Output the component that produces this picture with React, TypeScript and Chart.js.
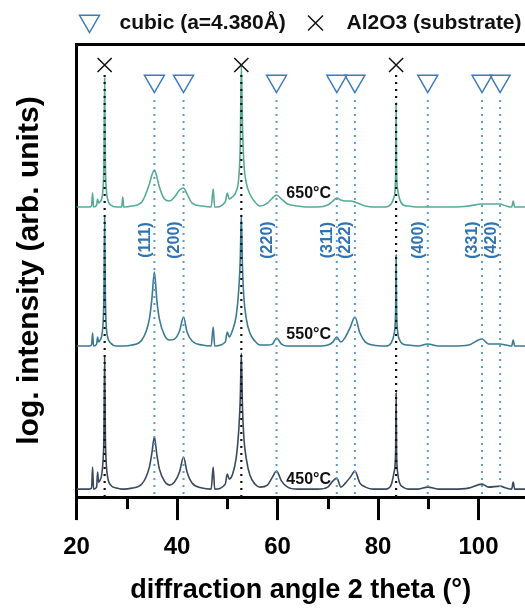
import React, { useEffect, useRef } from 'react';
import { Chart, registerables } from 'chart.js';

Chart.register(...registerables);

const FONT = '"Liberation Sans", Arial, Helvetica, sans-serif';

// 2 theta sample positions (degrees)
const angles = [
  20, 22.5, 23.0, 23.2, 23.4, 24.0, 24.2, 24.4, 24.8, 25.0,
  25.3, 25.45, 25.6, 25.75, 25.9, 26.2, 26.8, 28, 29.0, 29.2,
  29.4, 31, 33, 34.5, 35.0, 35.5, 36.0, 36.5, 37.5, 38.5,
  39.5, 40.5, 41.3, 42.0, 43.0, 45, 46.8, 47.2, 47.5, 49.6,
  50.0, 50.4, 51.0, 51.8, 52.3, 52.6, 52.8, 53.0, 53.3, 53.8,
  54.5, 55.5, 56.5, 58, 59, 59.8, 60.8, 62, 64, 66,
  68, 70, 71, 71.8, 72.6, 73.5, 74.5, 75.4, 76.4, 77.5,
  79, 81.5, 82.6, 83.2, 83.5, 83.6, 83.7, 83.9, 84.3, 85,
  86, 88, 89.9, 92, 95, 98, 100.7, 102, 104.3, 105.5,
  106.6, 106.9, 107.2, 109.5,
];

// log intensity, offset (arb. units)
const i650 = [
  290, 290, 291, 304, 290, 292, 298, 294, 296, 298,
  310, 332, 419, 332, 310, 298, 292, 290, 290, 300,
  290, 291, 295, 313, 322, 327, 320, 310, 298, 296,
  300, 307, 309, 303, 294, 291, 290, 308, 290, 295,
  304, 298, 300, 306, 320, 355, 432, 378, 335, 314,
  303, 295, 291, 294, 299, 302, 298, 293, 291, 290,
  290, 292, 296, 299, 297, 296, 296, 295, 293, 291,
  290, 290, 293, 300, 320, 394, 325, 308, 298, 292,
  291, 290, 290, 290, 290, 291, 293, 293, 293, 291,
  290, 296, 290, 290,
];

const i550 = [
  151, 151, 152, 164, 151, 153, 160, 155, 158, 161,
  175, 200, 280, 200, 173, 160, 154, 151, 151, 151,
  151, 152, 157, 178, 198, 225, 196, 178, 162, 157,
  158, 166, 180, 165, 156, 152, 151, 170, 151, 155,
  165, 160, 166, 182, 208, 240, 282, 235, 200, 178,
  164, 156, 152, 152, 153, 159, 153, 151, 151, 151,
  151, 152, 155, 160, 155, 160, 170, 180, 164, 155,
  152, 151, 154, 163, 185, 242, 186, 166, 157, 153,
  152, 151, 153, 151, 151, 152, 158, 153, 153, 152,
  151, 157, 151, 151,
];

const i450 = [
  8, 8, 9, 30, 8, 10, 25, 15, 18, 22,
  38, 60, 140, 60, 36, 20, 12, 9, 8, 8,
  8, 9, 13, 30, 44, 60, 42, 28, 16, 12,
  15, 25, 40, 25, 14, 9, 8, 30, 8, 13,
  23, 18, 22, 40, 68, 100, 144, 95, 60, 38,
  22, 13, 10, 12, 20, 26, 16, 10, 8, 8,
  8, 10, 16, 19, 10, 14, 20, 26, 14, 10,
  8, 8, 12, 25, 45, 104, 45, 25, 14, 10,
  8, 8, 10, 8, 8, 9, 13, 10, 11, 9,
  8, 15, 8, 8,
];

const cubicPeaks = [35.5, 41.3, 59.8, 71.8, 75.4, 89.9, 100.7, 104.3];
const cubicHkl = ['(111)', '(200)', '(220)', '(311)', '(222)', '(400)', '(331)', '(420)'];
const substratePeaks = [25.6, 52.8, 83.6];

const legendLabels = ['cubic (a=4.380Å)', 'Al2O3 (substrate)'];

const temperatures = ['650°C', '550°C', '450°C'];
const temperatureLabelY = [303, 162, 18];
const temperatureLabelX = 66.2;

const xMinorTicks = [30, 50, 70, 90];

const X_MIN = 20;
const X_MAX = 109.25;
const Y_MAX = 453;
const cubicMarkerY = 416;
const substrateMarkerY = 432;
const cubicLineTop = 397;
const substrateLineTop = 422;
const hklLabelY = 257;

const CUBIC_COLOR = '#3a7bbf';
const traceColors = ['#56ab92', '#3a7b93', '#3b4a5e'];

const toXY = (ys: number[]) => angles.map((x, i) => ({ x, y: ys[i] }));
const dotted = (peaks: number[], top: number) =>
  peaks.flatMap((x) => [
    { x, y: top },
    { x, y: 0 },
    { x, y: null as any },
  ]);

function drawTriangleDown(ctx: CanvasRenderingContext2D, cx: number, cy: number, r: number) {
  ctx.beginPath();
  ctx.moveTo(cx - r * 0.866, cy - r / 2);
  ctx.lineTo(cx + r * 0.866, cy - r / 2);
  ctx.lineTo(cx, cy + r);
  ctx.closePath();
  ctx.stroke();
}

function drawCross(ctx: CanvasRenderingContext2D, cx: number, cy: number, h: number) {
  ctx.beginPath();
  ctx.moveTo(cx - h, cy - h);
  ctx.lineTo(cx + h, cy + h);
  ctx.moveTo(cx + h, cy - h);
  ctx.lineTo(cx - h, cy + h);
  ctx.stroke();
}

const annotatePlugin = {
  id: 'annotate',
  afterDraw(chart: any) {
    const { ctx, chartArea, scales } = chart;
    const x = scales.x;
    const y = scales.y;
    ctx.save();
    // minor ticks
    ctx.strokeStyle = '#000';
    ctx.lineWidth = 3;
    xMinorTicks.forEach((v) => {
      const px = Math.round(x.getPixelForValue(v)) + 0.5;
      ctx.beginPath();
      ctx.moveTo(px, chartArea.bottom);
      ctx.lineTo(px, chartArea.bottom + 12);
      ctx.stroke();
    });
    // legend
    const ly = chartArea.top - 21;
    const lx = chartArea.left;
    ctx.lineWidth = 1.5;
    ctx.strokeStyle = CUBIC_COLOR;
    drawTriangleDown(ctx, lx + 13, ly - 2, 11.5);
    ctx.strokeStyle = '#111';
    drawCross(ctx, lx + 239, ly, 7.5);
    ctx.fillStyle = '#111';
    ctx.font = `bold 21px ${FONT}`;
    ctx.textAlign = 'left';
    ctx.textBaseline = 'middle';
    ctx.fillText(legendLabels[0], lx + 43, ly);
    ctx.fillText(legendLabels[1], lx + 270, ly);
    // hkl labels
    ctx.fillStyle = '#2e74b5';
    ctx.font = `bold 16px ${FONT}`;
    ctx.textAlign = 'center';
    ctx.textBaseline = 'middle';
    cubicPeaks.forEach((v, i) => {
      ctx.save();
      ctx.translate(x.getPixelForValue(v) - 9, y.getPixelForValue(hklLabelY));
      ctx.rotate(-Math.PI / 2);
      ctx.fillText(cubicHkl[i], 0, 0);
      ctx.restore();
    });
    // temperature labels
    ctx.fillStyle = '#111';
    ctx.font = `bold 16px ${FONT}`;
    temperatures.forEach((t, i) => {
      ctx.fillText(t, x.getPixelForValue(temperatureLabelX), y.getPixelForValue(temperatureLabelY[i]));
    });
    ctx.restore();
  },
};

export default function App() {
  const ref = useRef<HTMLCanvasElement | null>(null);

  useEffect(() => {
    if (!ref.current) return;
    const trace = (label: string, ys: number[], color: string) => ({
      label,
      data: toXY(ys),
      showLine: true,
      pointRadius: 0,
      borderColor: color,
      borderWidth: 1.6,
      cubicInterpolationMode: 'monotone',
    });
    const chart = new Chart(ref.current, {
      type: 'scatter',
      data: {
        datasets: [
          {
            label: legendLabels[0],
            data: cubicPeaks.map((x) => ({ x, y: cubicMarkerY })),
            pointStyle: 'triangle',
            pointRotation: 180,
            pointRadius: 11.5,
            borderColor: CUBIC_COLOR,
            backgroundColor: 'rgba(255,255,255,0)',
            borderWidth: 1.5,
            showLine: false,
          },
          {
            label: legendLabels[1],
            data: substratePeaks.map((x) => ({ x, y: substrateMarkerY })),
            pointStyle: 'crossRot',
            pointRadius: 10,
            borderColor: '#111',
            backgroundColor: '#111',
            borderWidth: 1.5,
            showLine: false,
          },
          {
            label: 'cubic lines',
            data: dotted(cubicPeaks, cubicLineTop),
            showLine: true,
            pointRadius: 0,
            borderColor: '#5a9bd6',
            borderWidth: 2,
            borderDash: [2, 5],
            spanGaps: false,
          },
          {
            label: 'substrate lines',
            data: dotted(substratePeaks, substrateLineTop),
            showLine: true,
            pointRadius: 0,
            borderColor: '#111',
            borderWidth: 2.2,
            borderDash: [2, 5],
            spanGaps: false,
          },
          trace(temperatures[0], i650, traceColors[0]),
          trace(temperatures[1], i550, traceColors[1]),
          trace(temperatures[2], i450, traceColors[2]),
        ],
      },
      options: {
        animation: false,
        responsive: true,
        maintainAspectRatio: false,
        layout: { autoPadding: false, padding: { top: 44, right: 0, bottom: 0, left: 0 } },
        plugins: {
          legend: { display: false },
          tooltip: { enabled: false },
        },
        scales: {
          x: {
            type: 'linear',
            position: 'bottom',
            min: X_MIN,
            max: X_MAX,
            border: { display: true, color: '#000', width: 3 },
            grid: {
              display: true,
              drawOnChartArea: false,
              drawTicks: true,
              tickLength: 23,
              tickWidth: 3,
              tickColor: (c: any) => (c.tick && c.tick.value % 20 === 0 ? '#000' : 'rgba(0,0,0,0)'),
            },
            ticks: {
              stepSize: 10,
              includeBounds: false,
              autoSkip: false,
              maxRotation: 0,
              padding: 0,
              color: '#000',
              font: { family: FONT, size: 24, weight: 'bold', lineHeight: 2.3 },
              callback: (v: any) => (Number(v) % 20 === 0 ? String(v) : ''),
            },
            title: {
              display: true,
              text: 'diffraction angle 2 theta (°)',
              color: '#000',
              font: { family: FONT, size: 27, weight: 'bold', lineHeight: 1.1 },
              padding: { top: 0, bottom: 3 },
            },
          },
          x2: {
            type: 'linear',
            position: 'top',
            min: X_MIN,
            max: X_MAX,
            border: { display: true, color: '#000', width: 3 },
            grid: { display: false, drawTicks: false },
            ticks: { display: false },
          },
          y: {
            type: 'linear',
            min: 0,
            max: Y_MAX,
            border: { display: true, color: '#000', width: 3 },
            grid: { display: false, drawTicks: false },
            ticks: { display: false },
            title: {
              display: true,
              text: 'log. intensity (arb. units)',
              color: '#000',
              font: { family: FONT, size: 30, weight: 'bold' },
              padding: { top: 12, bottom: 28.5 },
            },
          },
        },
      },
      plugins: [annotatePlugin],
    } as any);
    return () => chart.destroy();
  }, []);

  return (
    <div style={{ position: 'fixed', left: 0, top: 0, width: 525, height: 608, background: '#fff' }}>
      <canvas ref={ref} />
    </div>
  );
}
